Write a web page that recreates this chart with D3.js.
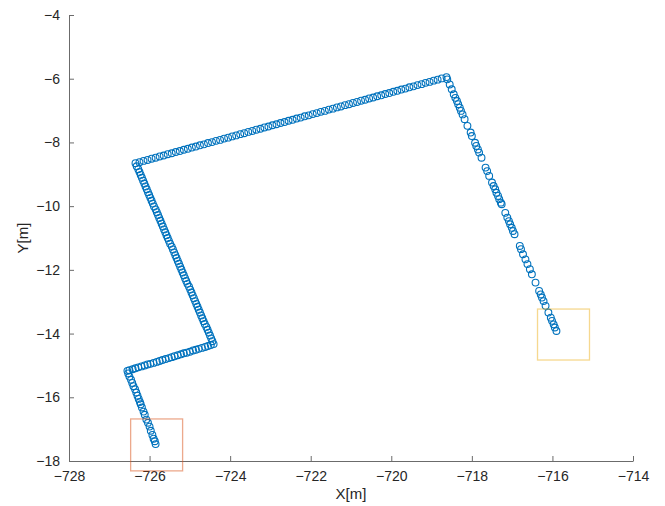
<!DOCTYPE html>
<html>
<head>
<meta charset="utf-8">
<script src="https://cdn.jsdelivr.net/npm/d3@7"></script>
<style>
  body { margin: 0; background: #fff; }
  svg { font-family: "Liberation Sans", Arial, sans-serif; }
</style>
</head>
<body>
<div id="chart"></div>
<script>
// trajectory (metres)
var trackX = [
  // leg 1 (start, going up)
  -725.85,-725.87,-725.90,-725.93,-725.97,-726.00,-726.04,-726.08,-726.12,-726.15,-726.19,-726.22,-726.24,-726.27,-726.30,-726.33,-726.36,-726.40,-726.43,-726.46,-726.50,-726.53,-726.55,
  // leg 2
  -726.50,-726.42,-726.35,-726.28,-726.20,-726.12,-726.05,-725.98,-725.90,-725.82,-725.75,-725.68,-725.60,-725.52,-725.45,-725.38,-725.30,-725.22,-725.15,-725.08,-725.00,-724.92,-724.85,-724.78,-724.70,-724.62,-724.55,-724.48,-724.41,
  // leg 3
  -724.44,-724.47,-724.50,-724.53,-724.56,-724.59,-724.63,-724.66,-724.69,-724.72,-724.75,-724.78,-724.81,-724.84,-724.87,-724.90,-724.93,-724.96,-724.99,-725.02,-725.06,-725.09,-725.12,-725.15,-725.18,-725.21,-725.24,-725.27,-725.30,-725.33,-725.36,-725.39,-725.42,-725.45,-725.49,-725.52,-725.55,-725.58,-725.61,-725.64,-725.67,-725.70,-725.73,-725.76,-725.79,-725.82,-725.85,-725.89,-725.92,-725.95,-725.98,-726.01,-726.04,-726.07,-726.10,-726.13,-726.16,-726.19,-726.22,-726.25,-726.28,-726.32,-726.35,
  // leg 4
  -726.25,-726.15,-726.05,-725.95,-725.85,-725.75,-725.65,-725.55,-725.45,-725.35,-725.25,-725.15,-725.05,-724.95,-724.85,-724.75,-724.65,-724.55,-724.45,-724.35,-724.25,-724.15,-724.05,-723.95,-723.85,-723.75,-723.65,-723.55,-723.45,-723.35,-723.25,-723.15,-723.05,-722.95,-722.85,-722.75,-722.65,-722.55,-722.45,-722.35,-722.25,-722.15,-722.05,-721.95,-721.85,-721.75,-721.65,-721.55,-721.45,-721.35,-721.25,-721.15,-721.05,-720.95,-720.85,-720.75,-720.65,-720.55,-720.45,-720.35,-720.25,-720.15,-720.05,-719.95,-719.85,-719.75,-719.65,-719.55,-719.45,-719.35,-719.25,-719.15,-719.05,-718.95,-718.85,-718.75,-718.63,
  // leg 5 (to the end)
  -718.61,-718.55,-718.50,-718.45,-718.41,-718.37,-718.34,-718.30,-718.27,-718.23,-718.18,-718.11,-718.03,-718.00,-717.92,-717.89,-717.85,-717.82,-717.76,-717.66,-717.62,-717.57,-717.50,-717.46,-717.42,-717.39,-717.35,-717.32,-717.28,-717.26,-717.17,-717.12,-717.08,-717.05,-717.01,-716.98,-716.94,-716.81,-716.78,-716.73,-716.67,-716.62,-716.56,-716.51,-716.42,-716.33,-716.29,-716.26,-716.22,-716.17,-716.10,-716.04,-716.01,-715.97,-715.94,-715.90
];
var trackY = [
  -17.47,-17.38,-17.30,-17.18,-17.05,-16.92,-16.80,-16.70,-16.55,-16.45,-16.32,-16.22,-16.15,-16.05,-15.95,-15.85,-15.75,-15.65,-15.55,-15.45,-15.35,-15.25,-15.17,
  -15.15,-15.12,-15.09,-15.06,-15.03,-15.00,-14.97,-14.95,-14.92,-14.89,-14.86,-14.83,-14.80,-14.77,-14.74,-14.71,-14.68,-14.65,-14.62,-14.60,-14.57,-14.53,-14.51,-14.48,-14.45,-14.42,-14.39,-14.36,-14.33,
  -14.24,-14.15,-14.06,-13.97,-13.88,-13.79,-13.70,-13.61,-13.52,-13.43,-13.34,-13.25,-13.16,-13.07,-12.98,-12.89,-12.80,-12.71,-12.62,-12.53,-12.44,-12.35,-12.26,-12.17,-12.08,-11.99,-11.90,-11.81,-11.72,-11.63,-11.54,-11.45,-11.36,-11.27,-11.18,-11.09,-11.00,-10.91,-10.82,-10.73,-10.64,-10.55,-10.46,-10.37,-10.28,-10.19,-10.10,-10.01,-9.92,-9.83,-9.74,-9.65,-9.56,-9.47,-9.38,-9.29,-9.20,-9.11,-9.02,-8.93,-8.84,-8.75,-8.65,
  -8.62,-8.58,-8.55,-8.51,-8.48,-8.44,-8.41,-8.37,-8.34,-8.30,-8.27,-8.23,-8.20,-8.16,-8.13,-8.09,-8.06,-8.02,-7.99,-7.95,-7.92,-7.88,-7.85,-7.81,-7.78,-7.74,-7.71,-7.67,-7.64,-7.60,-7.57,-7.53,-7.50,-7.46,-7.43,-7.39,-7.36,-7.32,-7.29,-7.25,-7.22,-7.18,-7.15,-7.11,-7.08,-7.04,-7.01,-6.97,-6.94,-6.90,-6.87,-6.83,-6.80,-6.76,-6.73,-6.69,-6.66,-6.62,-6.59,-6.55,-6.52,-6.48,-6.45,-6.41,-6.38,-6.34,-6.31,-6.27,-6.24,-6.20,-6.17,-6.13,-6.10,-6.06,-6.03,-5.99,-5.95,
  -6.02,-6.18,-6.33,-6.49,-6.60,-6.70,-6.80,-6.91,-7.01,-7.12,-7.27,-7.48,-7.69,-7.80,-8.01,-8.11,-8.22,-8.32,-8.48,-8.79,-8.90,-9.05,-9.26,-9.37,-9.47,-9.58,-9.68,-9.78,-9.89,-9.94,-10.21,-10.36,-10.47,-10.57,-10.68,-10.78,-10.88,-11.25,-11.35,-11.51,-11.67,-11.82,-11.98,-12.14,-12.40,-12.66,-12.77,-12.87,-12.98,-13.13,-13.34,-13.50,-13.60,-13.71,-13.81,-13.92
];

// start / end boxes [x0, x1, y0, y1]
var startBox = [-726.47, -725.18, -18.31, -16.68];
var endBox = [-716.37, -715.08, -14.83, -13.23];

var xTicks = [-728,-726,-724,-722,-720,-718,-716,-714];
var yTicks = [-18,-16,-14,-12,-10,-8,-6,-4];

var W = 665, H = 506;
var margin = {top: 15, right: 32, bottom: 45, left: 69},
    width = 633 - margin.left,
    height = 461 - margin.top;

var svg = d3.select("#chart").append("svg")
    .attr("width", W)
    .attr("height", H);

var g = svg.append("g")
    .attr("transform", "translate(" + margin.left + "," + margin.top + ")");

var x = d3.scaleLinear().domain([-728, -714]).range([0, width]);
var y = d3.scaleLinear().domain([-18, -4]).range([height, 0]);

var fmt = function(d) { return String(d).replace("-", "\u2212"); };

// axes
var xAxis = g.append("g")
    .attr("transform", "translate(0," + height + ")")
    .call(d3.axisBottom(x).tickValues(xTicks).tickSizeInner(-5).tickSizeOuter(0).tickPadding(10).tickFormat(fmt));
var yAxis = g.append("g")
    .call(d3.axisLeft(y).tickValues(yTicks).tickSizeInner(-5).tickSizeOuter(0).tickPadding(9).tickFormat(fmt));

[xAxis, yAxis].forEach(function(a) {
  a.select(".domain").attr("stroke", "#6b6b6b");
  a.selectAll(".tick line").attr("stroke", "#6b6b6b");
  a.selectAll(".tick text").attr("fill", "#262626")
    .style("font-size", "14px")
    .style("font-family", "'Liberation Sans', Arial, sans-serif");
});

// points
var pts = trackX.map(function(v, i) { return {x: v, y: trackY[i]}; });
g.append("g").selectAll("circle")
    .data(pts)
    .enter().append("circle")
    .attr("cx", function(d) { return x(d.x); })
    .attr("cy", function(d) { return y(d.y); })
    .attr("r", 3.4)
    .style("fill", "none")
    .style("stroke", "#0072BD")
    .style("stroke-width", "1.1px");

// boxes
function box(b, col) {
  g.append("rect")
    .attr("x", x(b[0]))
    .attr("y", y(b[3]))
    .attr("width", x(b[1]) - x(b[0]))
    .attr("height", y(b[2]) - y(b[3]))
    .style("fill", "none")
    .style("stroke", col)
    .style("stroke-opacity", 0.5)
    .style("stroke-width", "1.3px");
}
box(startBox, "#D95319");
box(endBox, "#EDB120");

// labels
svg.append("text")
    .attr("x", 351).attr("y", 499)
    .attr("text-anchor", "middle")
    .style("font-size", "15px")
    .attr("fill", "#262626")
    .text("X[m]");
svg.append("text")
    .attr("transform", "translate(28,238) rotate(-90)")
    .attr("text-anchor", "middle")
    .style("font-size", "15px")
    .attr("fill", "#262626")
    .text("Y[m]");
</script>
</body>
</html>
